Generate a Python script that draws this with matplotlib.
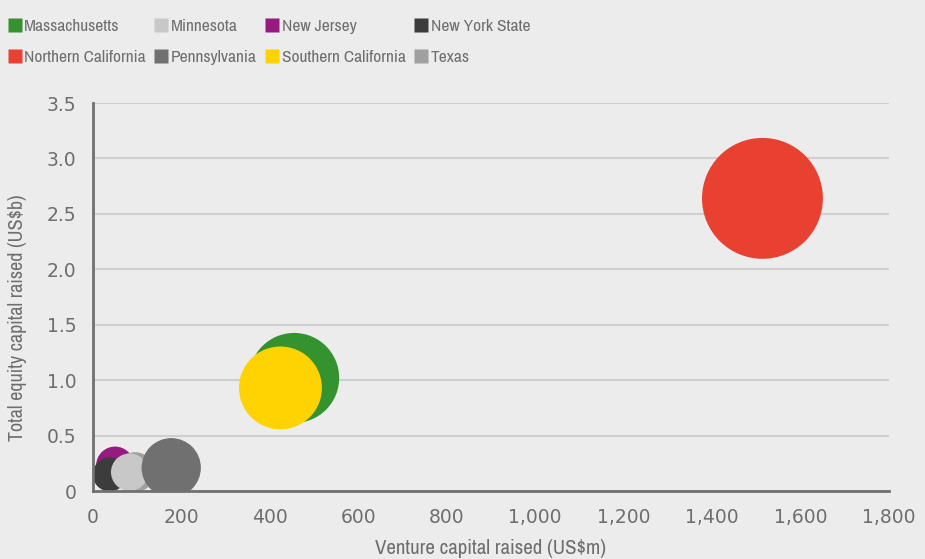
import matplotlib
matplotlib.use("Agg")
import matplotlib.pyplot as plt
from matplotlib.lines import Line2D
from matplotlib import font_manager

# ---- data ----
regions = ["Massachusetts", "Minnesota", "New Jersey", "New York State",
           "Northern California", "Pennsylvania", "Southern California", "Texas"]
venture_capital = [455, 83, 50, 38, 1514, 177, 424, 95]        # US$m
equity_capital = [1.02, 0.17, 0.23, 0.15, 2.64, 0.21, 0.93, 0.17]  # US$b
bubble_size = [203, 35, 36, 29, 366, 88, 172, 40]
colors = ["#34922F", "#C8C8C8", "#951B81", "#3C3C3C",
          "#E84031", "#707070", "#FFD300", "#A0A0A0"]
zorders = [3, 9, 5, 6, 2, 10, 4, 8]
x_ticks = [0, 200, 400, 600, 800, 1000, 1200, 1400, 1600, 1800]
x_ticklabels = ["0", "200", "400", "600", "800", "1,000", "1,200", "1,400", "1,600", "1,800"]
y_ticks = [0, 0.5, 1.0, 1.5, 2.0, 2.5, 3.0, 3.5]
y_ticklabels = ["0", "0.5", "1.0", "1.5", "2.0", "2.5", "3.0", "3.5"]

BG = "#ECECEC"
TXT = "#6E6E6E"

# find a condensed / narrow font if one is installed
narrow_family, narrow_stretch = None, "normal"
for f in font_manager.fontManager.ttflist:
    nm = f.name.lower()
    if ("narrow" in nm or "condensed" in nm) and f.style == "normal" and f.weight in (400, "normal", "regular"):
        narrow_family, narrow_stretch = f.name, f.stretch
        break
if narrow_family is None:
    for f in font_manager.fontManager.ttflist:
        if f.stretch in ("condensed", "semi-condensed", "extra-condensed") and f.style == "normal":
            narrow_family, narrow_stretch = f.name, f.stretch
            break
if narrow_family is None:
    narrow_family, narrow_stretch, scale = "Roboto", "normal", 0.88
else:
    scale = 1.0
NARROW = [narrow_family, "DejaVu Sans"]

fig = plt.figure(figsize=(9.25, 5.59), dpi=100, facecolor=BG)
ax = fig.add_axes([0.1005, 0.1216, 0.8605, 0.6941], facecolor=BG)

for i, name in enumerate(regions):
    ax.scatter(venture_capital[i], equity_capital[i], s=bubble_size[i] * 20.7,
               color=colors[i], edgecolors="none", zorder=zorders[i], label=name)

ax.set_xlim(0, 1800)
ax.set_ylim(0, 3.5)
ax.set_xticks(x_ticks)
ax.set_xticklabels(x_ticklabels)
ax.set_yticks(y_ticks)
ax.set_yticklabels(y_ticklabels)
ax.tick_params(axis="both", length=0, labelsize=13.5, colors=TXT)
ax.tick_params(axis="x", pad=12)
ax.tick_params(axis="y", pad=12)
ax.yaxis.grid(True, color="#CFCFCF", linewidth=1.5, zorder=0)
ax.set_axisbelow(True)
for side in ["top", "right"]:
    ax.spines[side].set_visible(False)
for side in ["left", "bottom"]:
    ax.spines[side].set_color("#707070")
    ax.spines[side].set_linewidth(2)
    ax.spines[side].set_zorder(20)

ax.set_xlabel("Venture capital raised (US$m)", fontsize=15 * scale, color=TXT,
              family=NARROW, stretch=narrow_stretch, labelpad=9)
ax.set_ylabel("Total equity capital raised (US$b)", fontsize=14.5 * scale, color=TXT,
              family=NARROW, stretch=narrow_stretch)
ax.yaxis.set_label_coords(-0.083, 0.446)

# legend (row-wise order as in the reference, matplotlib fills column-wise)
order = [0, 4, 1, 5, 2, 6, 3, 7]
handles = [Line2D([], [], marker="s", linestyle="none", markersize=9.5,
                  markerfacecolor=colors[i], markeredgecolor="none") for i in order]
labels = [regions[i] for i in order]
leg = fig.legend(handles, labels, ncol=4, loc="upper left",
                 bbox_to_anchor=(-0.004, 0.988), frameon=False,
                 prop={"family": NARROW, "size": 12.5 * scale, "stretch": narrow_stretch},
                 handlelength=0.7, handletextpad=0.2, columnspacing=0.55,
                 labelspacing=0.9, borderaxespad=0.3)
for t in leg.get_texts():
    t.set_color(TXT)

fig.savefig("out.png", dpi=100, facecolor=BG)
